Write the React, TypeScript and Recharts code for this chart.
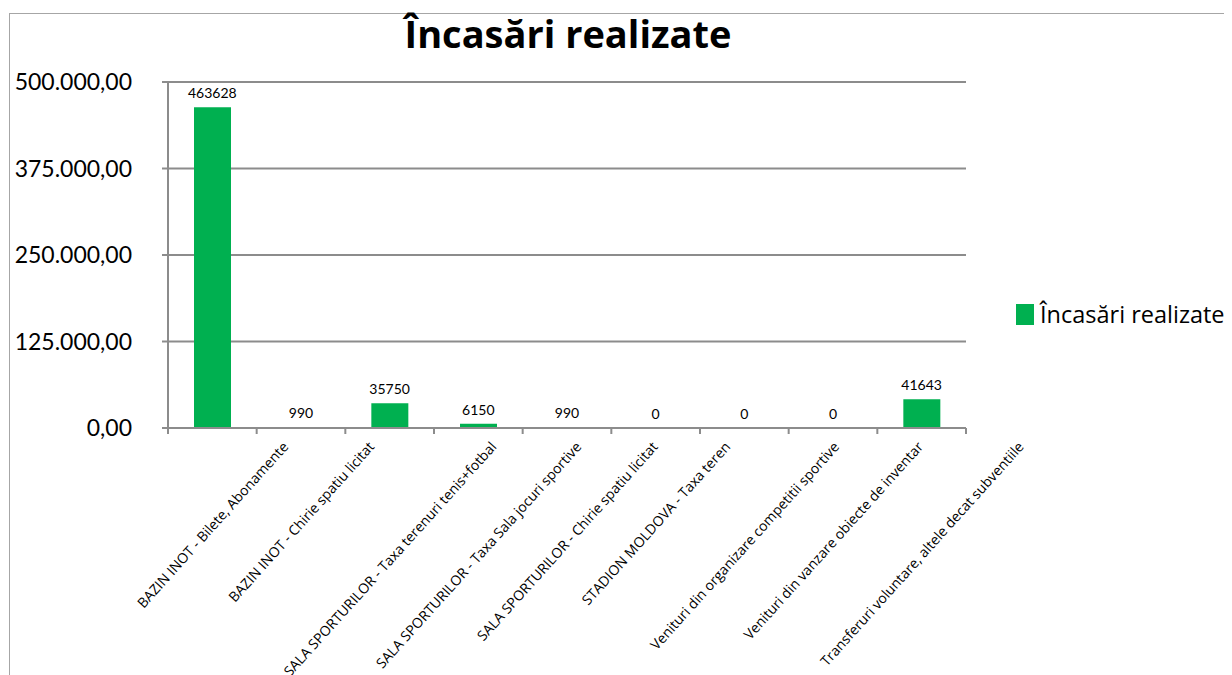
import React from "react";
import { Bar, CartesianGrid, ComposedChart, LabelList, Line, XAxis, YAxis } from "recharts";

const categories = [
  "BAZIN INOT - Bilete, Abonamente",
  "BAZIN INOT - Chirie spatiu licitat",
  "SALA SPORTURILOR - Taxa terenuri tenis+fotbal",
  "SALA SPORTURILOR - Taxa Sala jocuri sportive",
  "SALA SPORTURILOR - Chirie spatiu licitat",
  "STADION MOLDOVA - Taxa teren",
  "Venituri din organizare competitii sportive",
  "Venituri din vanzare obiecte de inventar",
  "Transferuri voluntare, altele decat subventiile",
];

const incasari = [463628, 990, 35750, 6150, 990, 0, 0, 0, 41643];

const yTicks = [0, 125000, 250000, 375000, 500000];

const seriesName = "Încasări realizate";
const title = "Încasări realizate";

const data = categories.map((name, i) => ({ name, value: incasari[i] }));

const FONT = "Lato, Carlito, Calibri, sans-serif";
const TEXT_FONT = "'Open Sans', sans-serif";
const GRAY = "#8c8c8c";
const GREEN = "#00b050";

const W = 1224;
const H = 667;
const MARGIN = { top: 74, right: 266, left: 0, bottom: 0 };
const Y_AXIS_W = 160;
const X_AXIS_H = 247;
const ANGLE = 48;
const LABEL_SIZE = 14;

const plotWidth = W - MARGIN.left - MARGIN.right - Y_AXIS_W;
const band = plotWidth / categories.length;

let ctx: CanvasRenderingContext2D | null = null;
function measure(text: string, font: string) {
  if (!ctx) ctx = document.createElement("canvas").getContext("2d");
  if (!ctx) return text.length * 6.5;
  ctx.font = font;
  return ctx.measureText(text).width;
}

function formatRo(v: number) {
  const s = Math.round(v).toString().replace(/\B(?=(\d{3})+(?!\d))/g, ".");
  return s + ",00";
}

function XTick(props: any) {
  const { x, y, payload, index } = props;
  const label = String(payload.value);
  const w = measure(label, `${LABEL_SIZE}px 'Open Sans'`);
  const rad = (ANGLE * Math.PI) / 180;
  const boxH = w * Math.sin(rad) + LABEL_SIZE * Math.cos(rad);
  const cy = y + 5 + boxH / 2;
  const axisY = y - 6;
  const last = index === categories.length - 1;
  return (
    <g>
      <line x1={x - band / 2} x2={x - band / 2} y1={axisY} y2={axisY + 6} stroke={GRAY} strokeWidth={2} />
      {last && (
        <line x1={x + band / 2} x2={x + band / 2} y1={axisY} y2={axisY + 6} stroke={GRAY} strokeWidth={2} />
      )}
      <text
        transform={`translate(${x},${cy}) rotate(${-ANGLE})`}
        textAnchor="middle"
        dominantBaseline="central"
        fontFamily={TEXT_FONT}
        fontSize={LABEL_SIZE}
        fill="#000"
      >
        {label}
      </text>
    </g>
  );
}

export default function App() {
  return (
    <div style={{ position: "relative", width: W, height: H, overflow: "hidden", background: "#fff" }}>
      <div
        style={{
          position: "absolute",
          left: 1,
          top: 5,
          width: 1400,
          height: 800,
          borderTop: "1px solid #a6a6a6",
          borderLeft: "1px solid #a6a6a6",
        }}
      />
      <div
        style={{
          position: "absolute",
          left: 0,
          width: 1120,
          top: 3,
          textAlign: "center",
          fontFamily: TEXT_FONT,
          fontWeight: 700,
          fontSize: 38,
          lineHeight: "44px",
          color: "#000",
        }}
      >
        {title}
      </div>
      <div
        style={{
          position: "absolute",
          left: 1008,
          top: 294,
          display: "flex",
          alignItems: "center",
          fontFamily: TEXT_FONT,
          fontSize: 23.5,
          lineHeight: "24px",
          color: "#000",
        }}
      >
        <div style={{ width: 18, height: 21, background: GREEN, marginRight: 6 }} />
        <span>{seriesName}</span>
      </div>
      <div style={{ position: "absolute", left: 0, top: 0 }}>
        <ComposedChart width={W} height={H} data={data} margin={MARGIN} barSize={37}>
          <CartesianGrid vertical={false} stroke={GRAY} strokeWidth={2} />
          <XAxis
            dataKey="name"
            interval={0}
            height={X_AXIS_H}
            axisLine={{ stroke: GRAY, strokeWidth: 2 }}
            tickLine={false}
            tickSize={6}
            tickMargin={0}
            tick={<XTick />}
          />
          <YAxis
            width={Y_AXIS_W}
            domain={[0, 500000]}
            ticks={yTicks}
            tickFormatter={formatRo}
            axisLine={{ stroke: GRAY, strokeWidth: 2 }}
            tickLine={{ stroke: GRAY, strokeWidth: 2 }}
            tickSize={6}
            tickMargin={30}
            tick={{ fontFamily: FONT, fontSize: 23, fill: "#000" }}
          />
          <Bar dataKey="value" name={seriesName} fill={GREEN} isAnimationActive={false} />
          <Line
            dataKey="value"
            stroke="none"
            dot={false}
            activeDot={false}
            legendType="none"
            isAnimationActive={false}
          >
            <LabelList dataKey="value" position="top" offset={9} fontFamily={FONT} fontSize={14} fill="#000" />
          </Line>
        </ComposedChart>
      </div>
    </div>
  );
}
